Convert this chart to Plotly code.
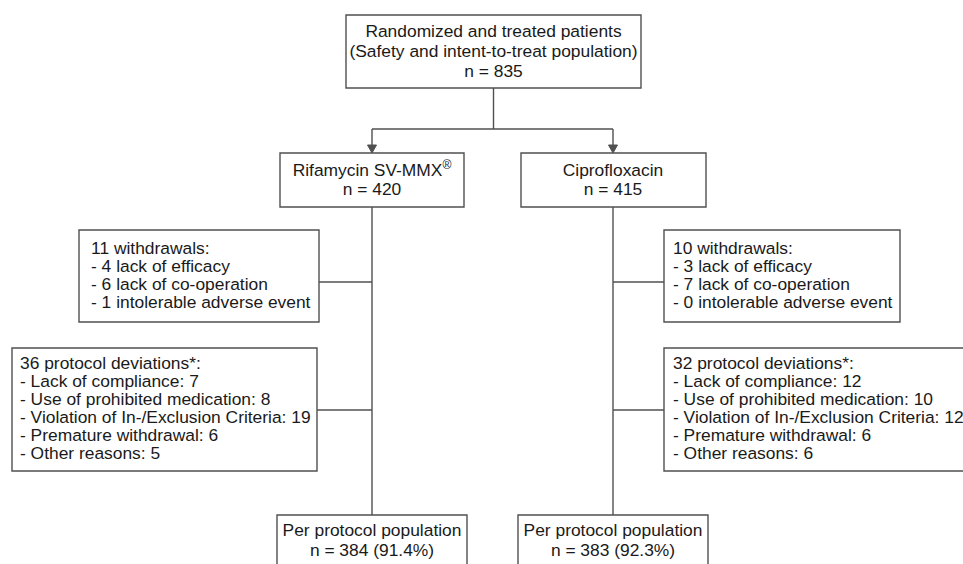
import plotly.graph_objects as go

# ---- data ----
total_lines = ["Randomized and treated patients", "(Safety and intent-to-treat population)"]
total_n = 835
arms = ["Rifamycin SV-MMX<sup>®</sup>", "Ciprofloxacin"]
arm_n = [420, 415]
withdrawal_total = [11, 10]
withdrawal_reasons = ["lack of efficacy", "lack of co-operation", "intolerable adverse event"]
withdrawal_counts = [[4, 6, 1], [3, 7, 0]]
deviation_total = [36, 32]
deviation_reasons = ["Lack of compliance", "Use of prohibited medication",
                     "Violation of In-/Exclusion Criteria", "Premature withdrawal", "Other reasons"]
deviation_counts = [[7, 8, 19, 6, 5], [12, 10, 12, 6, 6]]
pp_n = [384, 383]
pp_pct = [91.4, 92.3]

# ---- layout geometry (pixel space) ----
W, H = 963, 564
LINE = "#505050"
TXT = "#1a1a1a"
FONT = "Liberation Sans, Arial, sans-serif"
FS = 17.4
LW = 1.4

top_box = dict(x0=346, x1=641, y0=15, y1=88)
arm_x = [372, 613]
split_y = 129
arm_boxes = [dict(x0=280, x1=464, y0=153, y1=207), dict(x0=521, x1=706, y0=153, y1=207)]
wd_boxes = [dict(x0=79, x1=319, y0=230, y1=322), dict(x0=664, x1=900, y0=230, y1=322)]
dev_boxes = [dict(x0=12, x1=317, y0=348, y1=471), dict(x0=664, x1=1000, y0=348, y1=471)]
pp_boxes = [dict(x0=277, x1=467, y0=515, y1=600), dict(x0=518, x1=708, y0=515, y1=600)]
wd_text_x = [91, 673]
dev_text_x = [20, 673]

fig = go.Figure()
shapes = []
cx_list, cy_list, ctext = [], [], []
lx_list, ly_list, ltext = [], [], []


def rect(b):
    shapes.append(dict(type="rect", xref="x", yref="y", x0=b["x0"], x1=b["x1"], y0=b["y0"], y1=b["y1"],
                       line=dict(color=LINE, width=LW), fillcolor="white", layer="below"))


def seg(x0, y0, x1, y1):
    shapes.append(dict(type="line", xref="x", yref="y", x0=x0, y0=y0, x1=x1, y1=y1,
                       line=dict(color=LINE, width=LW), layer="below"))


def text(x, y, s, anchor="center"):
    if anchor == "center":
        cx_list.append(x); cy_list.append(y + 1); ctext.append(s)
    else:
        lx_list.append(x); ly_list.append(y + 1); ltext.append(s)


# connectors first (below boxes)
cx = (top_box["x0"] + top_box["x1"]) / 2
seg(cx, top_box["y1"], cx, split_y)
seg(arm_x[0], split_y, arm_x[1], split_y)

# top box
rect(top_box)
top_all = total_lines + [f"n = {total_n}"]
for i, s in enumerate(top_all):
    text(cx, 32 + 20 * i, s)

for k in range(2):
    ax = arm_x[k]
    seg(ax, split_y, ax, 146)
    shapes.append(dict(type="path", xref="x", yref="y",
                       path=f"M {ax-4.5},{145} L {ax+4.5},{145} L {ax},{153} Z",
                       fillcolor=LINE, line=dict(color=LINE, width=1), layer="below"))
    b = arm_boxes[k]
    seg(ax, b["y1"], ax, pp_boxes[k]["y0"])
    rect(b)
    text(ax, 171, arms[k])
    text(ax, 190, f"n = {arm_n[k]}")
    # withdrawals
    wb = wd_boxes[k]
    if k == 0:
        seg(wb["x1"], 282, ax, 282)
    else:
        seg(ax, 282, wb["x0"], 282)
    rect(wb)
    wlines = [f"{withdrawal_total[k]} withdrawals:"] + \
             [f"- {c} {r}" for c, r in zip(withdrawal_counts[k], withdrawal_reasons)]
    for i, s in enumerate(wlines):
        text(wd_text_x[k], 249 + 18 * i, s, anchor="left")
    # deviations
    db = dev_boxes[k]
    if k == 0:
        seg(db["x1"], 410, ax, 410)
    else:
        seg(ax, 410, db["x0"], 410)
    rect(db)
    dlines = [f"{deviation_total[k]} protocol deviations*:"] + \
             [f"- {r}: {c}" for r, c in zip(deviation_reasons, deviation_counts[k])]
    for i, s in enumerate(dlines):
        text(dev_text_x[k], 364 + 18 * i, s, anchor="left")
    # per protocol
    pb = pp_boxes[k]
    rect(pb)
    text(ax, 531, "Per protocol population")
    text(ax, 551, f"n = {pp_n[k]} ({pp_pct[k]}%)")

fig.add_trace(go.Scatter(x=cx_list, y=cy_list, text=ctext, mode="text", textposition="middle center",
                         textfont=dict(family=FONT, size=FS, color=TXT), hoverinfo="skip", cliponaxis=False))
fig.add_trace(go.Scatter(x=lx_list, y=ly_list, text=ltext, mode="text", textposition="middle right",
                         textfont=dict(family=FONT, size=FS, color=TXT), hoverinfo="skip", cliponaxis=False))

fig.update_layout(
    width=W, height=H,
    margin=dict(l=0, r=0, t=0, b=0),
    paper_bgcolor="white", plot_bgcolor="white",
    xaxis=dict(range=[0, W], visible=False, fixedrange=True),
    yaxis=dict(range=[H, 0], visible=False, fixedrange=True),
    shapes=shapes,
    showlegend=False,
)
fig.write_html("out.html", config={"displayModeBar": False},
               post_script="document.body.style.margin='0';document.body.style.overflow='hidden';")
